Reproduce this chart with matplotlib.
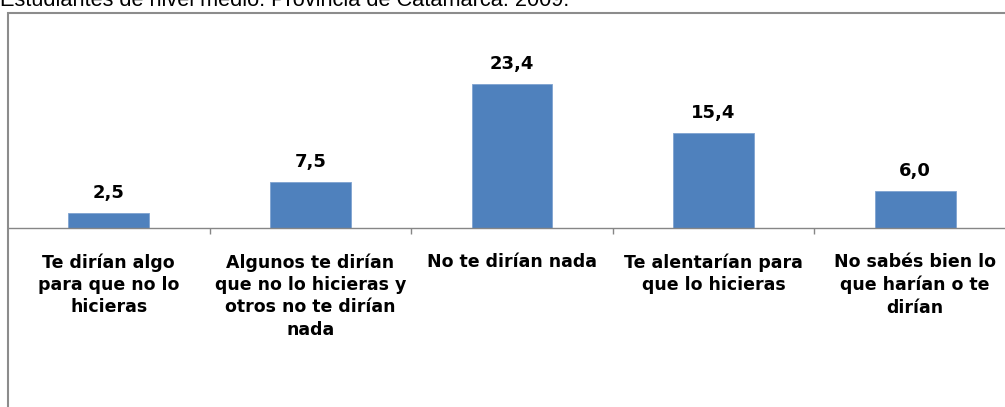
import numpy as np
import matplotlib.pyplot as plt
from matplotlib.patches import Rectangle

categorias = [
    "Te dirían algo\npara que no lo\nhicieras",
    "Algunos te dirían\nque no lo hicieras y\notros no te dirían\nnada",
    "No te dirían nada",
    "Te alentarían para\nque lo hicieras",
    "No sabés bien lo\nque harían o te\ndirían",
]
valores = [2.5, 7.5, 23.4, 15.4, 6.0]
titulo = "Estudiantes de nivel medio. Provincia de Catamarca. 2009."

W, H = 1005, 407
fig = plt.figure(figsize=(W / 100, H / 100), dpi=100)

# axes reaches past the right edge, as in the cropped original
left = 8 / W
width = 5 * 201.6 / W
bottom = (H - 228) / H
height = 25 * 6.15 / H
ax = fig.add_axes([left, bottom, width, height])

x = np.arange(len(valores))
ax.bar(x, valores, width=0.4, color="#4F81BD", edgecolor="#7FA3D0", linewidth=0.6)
ax.set_xlim(-0.5, 4.5)
ax.set_ylim(0, 25)

for xi, v in zip(x, valores):
    ax.annotate(f"{v:.1f}".replace(".", ","), (xi, v), xytext=(0, 8),
                textcoords="offset points", ha="center", va="bottom",
                fontsize=13, fontweight="bold", family="DejaVu Sans", color="#000000")

for s in ["top", "left", "right"]:
    ax.spines[s].set_visible(False)
ax.spines["bottom"].set_color("#868686")
ax.spines["bottom"].set_linewidth(1.0)
ax.set_yticks([])

ax.set_xticks(x)
ax.set_xticklabels(categorias, fontsize=12.5, fontweight="bold", family="DejaVu Sans",
                   linespacing=1.32, va="top")
ax.tick_params(axis="x", which="major", length=0, pad=18)
ax.set_xticks(np.arange(0.5, 4.5, 1.0), minor=True)
ax.tick_params(axis="x", which="minor", length=4.5, color="#868686", width=1.0, direction="out")

# outer chart border, cut off at right and bottom
fig.patches.append(Rectangle((left, -0.1), 1.2, (H - 13) / H + 0.1,
                             transform=fig.transFigure, fill=False,
                             edgecolor="#8C8C8C", linewidth=1.5, clip_on=False))

fig.text(0.0, (H - 6.5) / H, titulo, fontsize=15.7, family="Liberation Sans",
         ha="left", va="baseline")

fig.savefig("out.png", dpi=100)
